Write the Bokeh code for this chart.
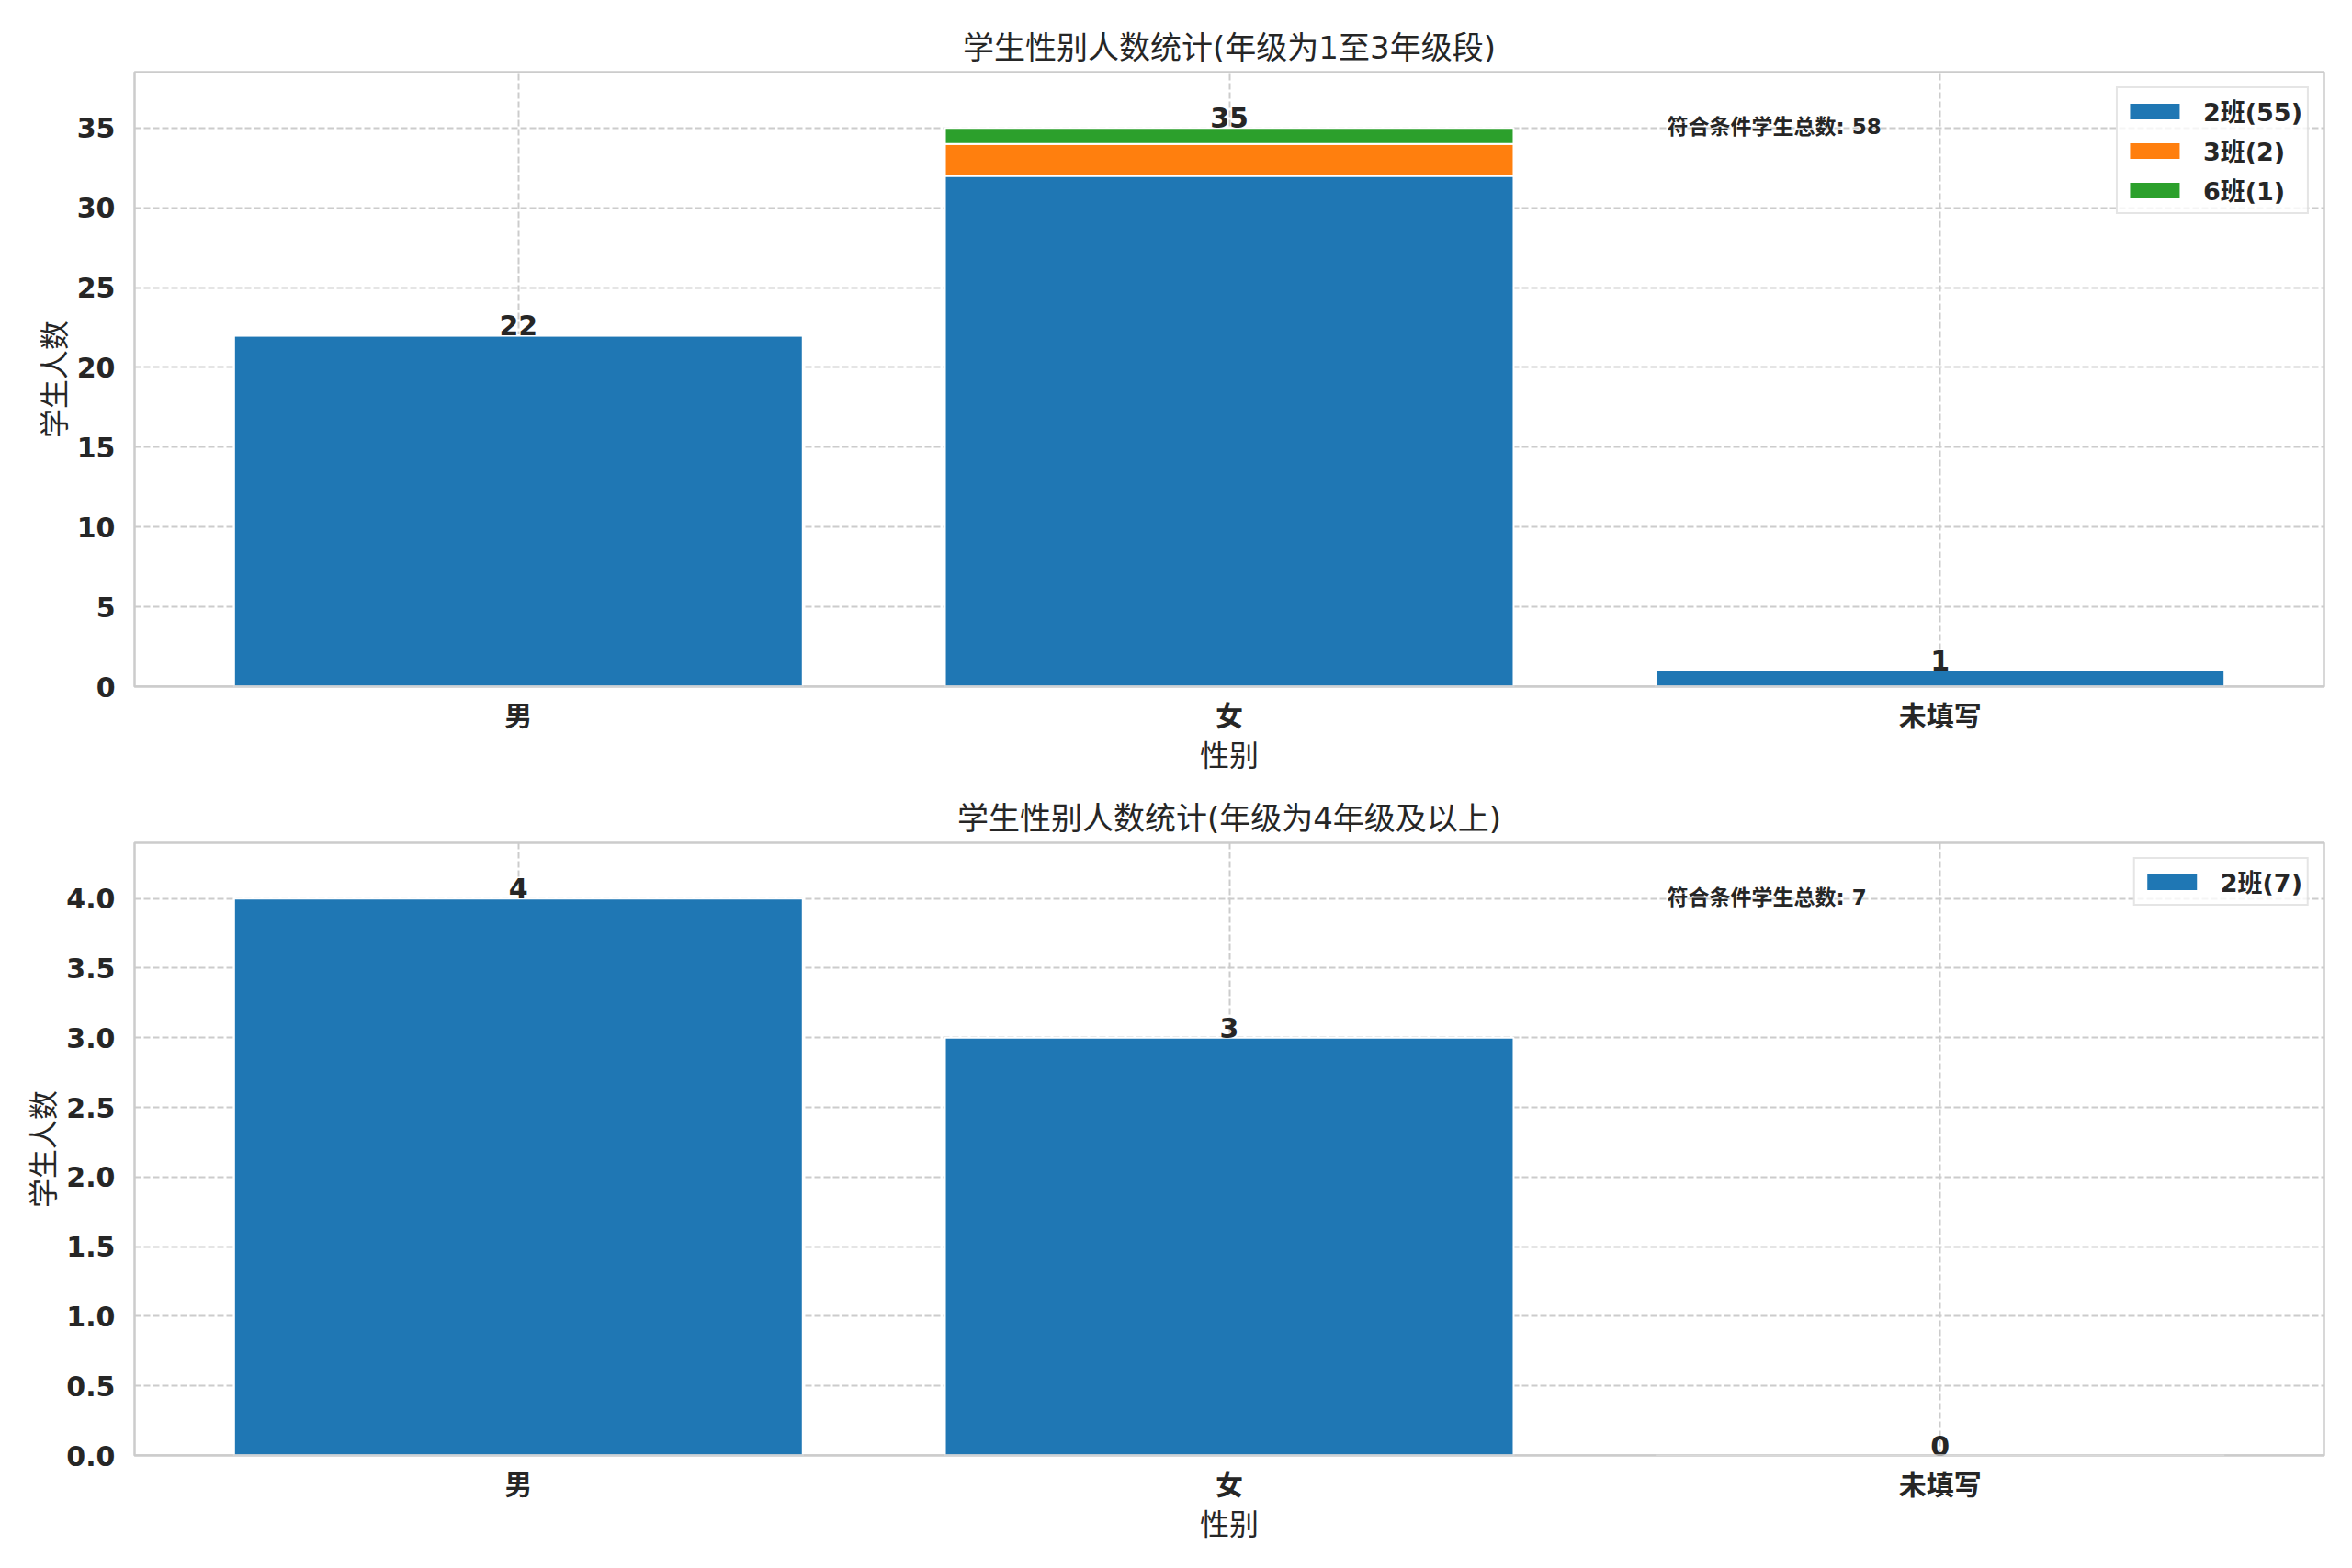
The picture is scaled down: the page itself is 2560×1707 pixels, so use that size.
from bokeh.plotting import figure
from bokeh.layouts import column
from bokeh.models import (ColumnDataSource, Range1d, FixedTicker, SingleIntervalTicker,
                          NumeralTickFormatter, Label, Span)
from bokeh.core.properties import value
from bokeh.embed import file_html
from bokeh.resources import INLINE

# ---- data ----
genders = ["男", "女", "未填写"]

# grades 1-3
top_classes = ["2班", "3班", "6班"]
top_counts_2 = [22, 32, 1]
top_counts_3 = [0, 2, 0]
top_counts_6 = [0, 1, 0]

# grade 4 and above
bottom_classes = ["2班"]
bottom_counts_2 = [4, 3, 0]

top_title = "学生性别人数统计(年级为1至3年级段)"
bottom_title = "学生性别人数统计(年级为4年级及以上)"
x_label = "性别"
y_label = "学生人数"
note_prefix = "符合条件学生总数"

colors = ["#1f77b4", "#ff7f0e", "#2ca02c"]
FONT = "DejaVu Sans, Noto Sans CJK SC"
TEXT = "#262626"
EDGE = "#cccccc"


def make_plot(title, classes, series, tick_interval, tick_fmt, height, border_top):
    totals = [sum(v) for v in zip(*series)]
    xs = list(range(len(genders)))
    ymax = max(totals) * 1.1

    p = figure(width=2544, height=height, output_backend="svg", toolbar_location=None,
               x_range=Range1d(-0.54, len(genders) - 0.46), y_range=Range1d(0, ymax),
               min_border_left=146, min_border_right=15, min_border_top=border_top,
               min_border_bottom=100)

    data = dict(x=xs)
    keys = []
    for name, vals in zip(classes, series):
        data[name] = vals
        keys.append(name)
    source = ColumnDataSource(data)
    legend_labels = [f"{name}({sum(vals)})" for name, vals in zip(classes, series)]
    p.vbar_stack(keys, x="x", width=0.8, source=source, color=colors[:len(keys)],
                 line_color="white", line_width=2, legend_label=legend_labels)

    # bottom spine drawn above the bars, like matplotlib
    p.add_layout(Span(location=0, dimension="width", line_color=EDGE, line_width=2.5))

    # total labels on top of bars
    lab = ColumnDataSource(dict(x=xs, y=totals, t=[str(t) for t in totals]))
    p.text(x="x", y="y", text="t", source=lab, text_align="center",
           text_baseline="bottom", text_font=value(FONT),
           text_font_size="30px", text_font_style="bold", text_color=TEXT)

    # note
    x0, x1 = p.x_range.start, p.x_range.end
    p.add_layout(Label(x=x0 + 0.7 * (x1 - x0), y=0.9 * ymax, y_offset=-6,
                       text=f"{note_prefix}: {sum(totals)}",
                       text_font=FONT, text_font_size="23px", text_font_style="bold",
                       text_color=TEXT, text_baseline="bottom"))

    # title
    p.title.text = title
    p.title.align = "center"
    p.title.text_font = FONT
    p.title.text_font_size = "34px"
    p.title.text_font_style = "normal"
    p.title.text_color = TEXT
    p.title.standoff = 14

    # axes
    p.xaxis.ticker = FixedTicker(ticks=xs)
    p.xaxis.major_label_overrides = {i: g for i, g in enumerate(genders)}
    p.yaxis.ticker = SingleIntervalTicker(interval=tick_interval)
    p.yaxis.formatter = NumeralTickFormatter(format=tick_fmt)
    p.xaxis.axis_label = x_label
    p.yaxis.axis_label = y_label
    for ax in (p.xaxis, p.yaxis):
        ax.axis_line_color = None
        ax.major_tick_line_color = None
        ax.minor_tick_line_color = None
        ax.major_label_text_font = FONT
        ax.major_label_text_font_size = "30px"
        ax.major_label_text_font_style = "bold"
        ax.major_label_text_color = TEXT
        ax.axis_label_text_font = FONT
        ax.axis_label_text_font_size = "32px"
        ax.axis_label_text_font_style = "normal"
        ax.axis_label_text_color = TEXT
    p.xaxis.major_label_standoff = 8
    p.xaxis.axis_label_standoff = 4
    p.yaxis.major_label_standoff = 15
    p.yaxis.axis_label_standoff = 2

    # grid & frame
    p.grid.grid_line_color = EDGE
    p.grid.grid_line_width = 2
    p.grid.grid_line_dash = "7 3"
    p.outline_line_color = EDGE
    p.outline_line_width = 2.5
    p.background_fill_color = "white"

    # legend
    lg = p.legend[0]
    lg.location = "top_right"
    lg.margin = 16
    lg.padding = 5
    lg.spacing = 4
    lg.label_standoff = 18
    lg.glyph_width = 70
    lg.glyph_height = 24
    lg.label_height = 32
    lg.label_text_font = FONT
    lg.label_text_font_size = "27px"
    lg.label_text_font_style = "bold"
    lg.label_text_color = TEXT
    lg.border_line_color = EDGE
    lg.border_line_width = 2
    lg.background_fill_alpha = 0.8
    return p


p1 = make_plot(top_title, top_classes, [top_counts_2, top_counts_3, top_counts_6],
               5, "0", 847, 78)
p2 = make_plot(bottom_title, bottom_classes, [bottom_counts_2], 0.5, "0.0", 837, 70)

p = column(p1, p2)
open("out.html", "w").write(file_html(p, INLINE))
